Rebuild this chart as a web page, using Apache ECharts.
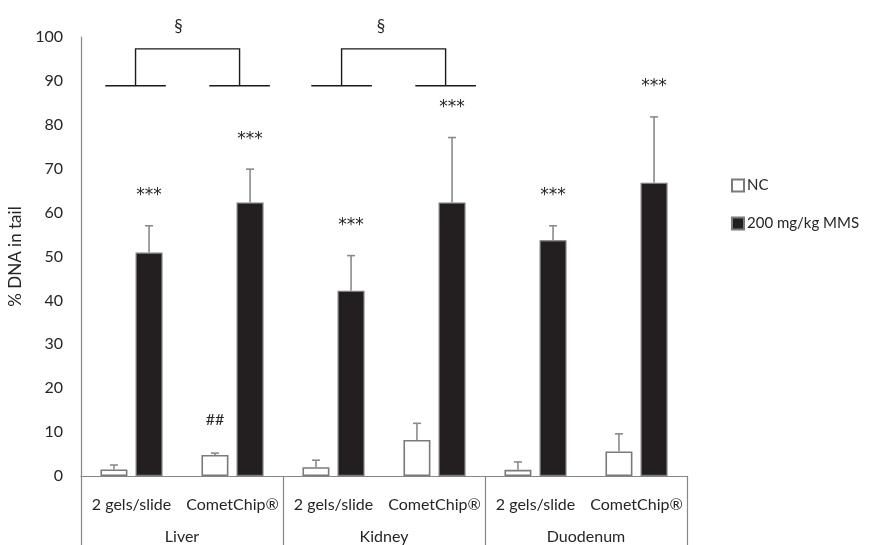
<!DOCTYPE html>
<html>
<head>
<meta charset="utf-8">
<script src="https://cdn.jsdelivr.net/npm/echarts@6/dist/echarts.min.js"></script>
<style>html,body{margin:0;padding:0;background:#fff;}#c{width:875px;height:545px;}</style>
</head>
<body>
<div id="c"></div>
<script>
// ---- data ----
const categories = ['2 gels/slide', 'CometChip®', '2 gels/slide', 'CometChip®', '2 gels/slide', 'CometChip®'];
const groups = ['Liver', 'Kidney', 'Duodenum'];
const seriesNames = ['NC', '200 mg/kg MMS'];
const ncMean = [1.5, 4.8, 2.0, 8.2, 1.4, 5.6];
const ncErr = [1.0, 0.4, 1.6, 3.8, 1.8, 4.0];
const mmsMean = [50.9, 62.3, 42.2, 62.3, 53.7, 66.8];
const mmsErr = [6.1, 7.6, 8.0, 14.8, 3.3, 15.0];
const ncSig = ['', '##', '', '', '', ''];
const mmsSig = ['***', '***', '***', '***', '***', '***'];
const yMin = 0, yMax = 100, yStep = 10;
// brackets: [left anchor (category units), right anchor, symbol position, low y, high y]
const brackets = [[0.04, 1.07, 0.465, 88.9, 97.3], [2.08, 3.11, 2.47, 88.9, 97.3]];
const bracketSymbol = '§';

const FONT = 'Lato, "Open Sans", sans-serif';
const STAR_FONT = '"DejaVu Sans", sans-serif';
const TXT = '#262626';
const AX = '#868686';
const BAR_W = 27;
const GAP = 0.3;
const OFF = BAR_W * (1 + GAP) / 2;

function errSeries(mean, err, sig, dir) {
  return {
    type: 'custom',
    z: 5,
    data: mean.map((m, i) => [i, m, err[i]]),
    renderItem: function (params, api) {
      const i = api.value(0), m = api.value(1), e = api.value(2);
      const base = api.coord([i, m]);
      const top = api.coord([i, m + e]);
      const x = base[0] + dir * OFF;
      const children = [
        { type: 'line', shape: { x1: x, y1: base[1], x2: x, y2: top[1] }, style: { stroke: '#8a8a8a', lineWidth: 1.6 } },
        { type: 'line', shape: { x1: x - 4, y1: top[1], x2: x + 4, y2: top[1] }, style: { stroke: '#8a8a8a', lineWidth: 1.6 } }
      ];
      const s = sig[params.dataIndex];
      if (s) {
        const isStar = s.indexOf('*') >= 0;
        children.push({ type: 'text', style: {
          text: s, x: x, y: top[1] - (isStar ? 30 : 33), align: 'center', verticalAlign: 'middle',
          fill: TXT, fontSize: isStar ? 17 : 16, fontFamily: isStar ? STAR_FONT : FONT
        } });
      }
      return { type: 'group', children: children };
    }
  };
}

const chart = echarts.init(document.getElementById('c'));
chart.setOption({
  animation: false,
  backgroundColor: '#fff',
  textStyle: { fontFamily: FONT },
  grid: { left: 81, right: 188, top: 37, bottom: 69, containLabel: false, outerBoundsMode: 'none' },
  legend: {
    orient: 'vertical', left: 726, top: 173, itemWidth: 12, itemHeight: 12, itemGap: 23,
    icon: 'rect', data: seriesNames,
    textStyle: { fontSize: 15, color: TXT, fontFamily: FONT, padding: [0, 0, 0, -2] }
  },
  xAxis: [
    {
      type: 'category', data: categories, position: 'bottom',
      axisLine: { lineStyle: { color: AX, width: 1.2 } },
      axisTick: { show: false },
      axisLabel: { margin: 21, fontSize: 16, color: TXT, fontFamily: FONT, interval: 0 }
    },
    {
      type: 'category', data: groups, position: 'bottom',
      axisLine: { show: false },
      axisTick: { show: true, length: 72, lineStyle: { color: AX, width: 1.2 } },
      axisLabel: { margin: 53, fontSize: 16, color: TXT, fontFamily: FONT }
    }
  ],
  yAxis: {
    type: 'value', min: yMin, max: yMax, interval: yStep,
    name: '% DNA in tail', nameLocation: 'middle', nameGap: 54, nameRotate: 90,
    nameTextStyle: { fontSize: 17, color: TXT, fontFamily: FONT },
    axisLine: { show: true, lineStyle: { color: AX, width: 1.2 } },
    axisTick: { show: false },
    splitLine: { show: false },
    axisLabel: { margin: 18, fontSize: 16, color: TXT, fontFamily: FONT }
  },
  series: [
    {
      name: seriesNames[0], type: 'bar', data: ncMean, barWidth: BAR_W, barGap: (GAP * 100) + '%',
      itemStyle: { color: '#ffffff', borderColor: '#7a7a7a', borderWidth: 1.6 }
    },
    {
      name: seriesNames[1], type: 'bar', data: mmsMean, barWidth: BAR_W, barGap: (GAP * 100) + '%',
      itemStyle: { color: '#231f20', borderColor: '#7a7a7a', borderWidth: 1.2 }
    },
    errSeries(ncMean, ncErr, ncSig, -1),
    errSeries(mmsMean, mmsErr, mmsSig, 1),
    {
      type: 'custom', z: 6,
      data: brackets.map((b, i) => [i, b[3], b[4]]),
      renderItem: function (params, api) {
        const b = brackets[params.dataIndex];
        const cw = api.size([1, 0])[0];
        const x0 = api.coord([0, b[3]])[0];
        const yLo = api.coord([0, b[3]])[1];
        const yHi = api.coord([0, b[4]])[1];
        const xl = x0 + b[0] * cw, xr = x0 + b[1] * cw, xs = x0 + b[2] * cw;
        const hw = 0.3 * cw;
        const st = { stroke: '#1a1a1a', lineWidth: 1.4 };
        return {
          type: 'group', children: [
            { type: 'line', shape: { x1: xl - hw, y1: yLo, x2: xl + hw, y2: yLo }, style: st },
            { type: 'line', shape: { x1: xr - hw, y1: yLo, x2: xr + hw, y2: yLo }, style: st },
            { type: 'polyline', shape: { points: [[xl, yLo], [xl, yHi], [xr, yHi], [xr, yLo]] }, style: Object.assign({ fill: 'none' }, st) },
            { type: 'text', style: { text: bracketSymbol, x: xs, y: yHi - 22, align: 'center', verticalAlign: 'middle', fill: TXT, fontSize: 17, fontFamily: FONT } }
          ]
        };
      }
    }
  ]
});
</script>
</body>
</html>
